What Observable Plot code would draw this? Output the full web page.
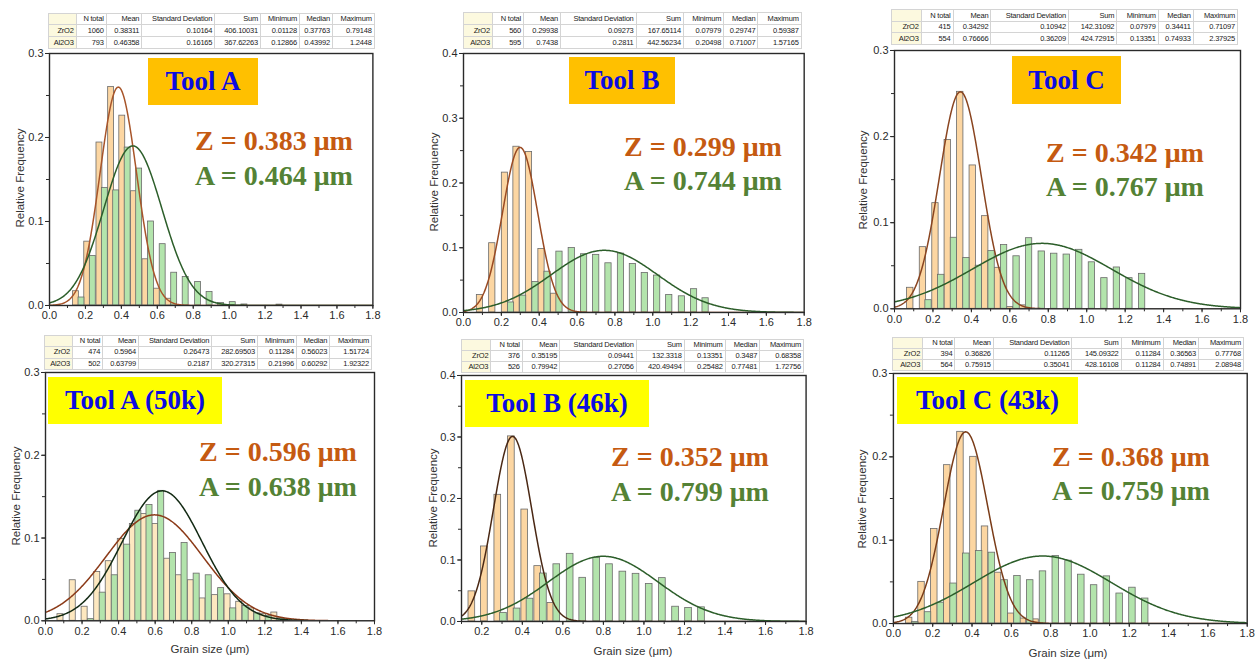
<!DOCTYPE html>
<html><head><meta charset="utf-8">
<script src="https://cdn.jsdelivr.net/npm/d3@7"></script>
<script src="https://cdn.jsdelivr.net/npm/@observablehq/plot@0.6"></script>
<style>
body{margin:0;background:#fff;width:1255px;height:659px;position:relative;overflow:hidden;font-family:"Liberation Sans",Arial,sans-serif;}
.plotbox{position:absolute}
table.stats{position:absolute;border-collapse:collapse;font-family:"Liberation Sans",Arial,sans-serif;font-size:7.5px;color:#1a1a1a;border:1.5px solid #8a8a8a;table-layout:fixed;background:#fff}
table.stats td{border:1px solid #d4d4d4;padding:0 2px;text-align:right;white-space:nowrap;overflow:hidden;line-height:10px;height:10px;letter-spacing:-0.2px}
table.stats tr:first-child td{background:#fcf9df;text-align:center}
table.stats td:first-child{background:#fcf9df}
.tool{position:absolute;font-family:"Liberation Serif","Times New Roman",serif;font-weight:bold;color:#0c0ce0;font-size:27px;display:flex;align-items:center;justify-content:center;white-space:nowrap}
.val{position:absolute;font-family:"Liberation Serif","Times New Roman",serif;font-weight:bold;font-size:28px;white-space:nowrap;line-height:28px}
.ytitle{position:absolute;font-size:11.5px;color:#333;transform:translate(-50%,-50%) rotate(-90deg);white-space:nowrap}
.xtitle{position:absolute;font-size:11.5px;color:#333;transform:translate(-50%,-50%);white-space:nowrap}
</style></head>
<body>
<script>
// ---------- tick labels ----------
const xMajorTicks = [0, 0.2, 0.4, 0.6, 0.8, 1.0, 1.2, 1.4, 1.6, 1.8];
const xMinorTicks = [0, 0.1, 0.2, 0.3, 0.4, 0.5, 0.6, 0.7, 0.8, 0.9, 1.0, 1.1, 1.2, 1.3, 1.4, 1.5, 1.6, 1.7, 1.8];
const yMajor03 = [0, 0.1, 0.2, 0.3];
const yMinor03 = [0, 0.05, 0.1, 0.15, 0.2, 0.25, 0.3];
const yMajor04 = [0, 0.1, 0.2, 0.3, 0.4];
const yMinor04 = [0, 0.05, 0.1, 0.15, 0.2, 0.25, 0.3, 0.35, 0.4];

// ---------- categories / labels ----------
const toolNames = ["Tool A", "Tool B", "Tool C", "Tool A (50k)", "Tool B (46k)", "Tool C (43k)"];
const zLabels = ["Z = 0.383 μm", "Z = 0.299 μm", "Z = 0.342 μm", "Z = 0.596 μm", "Z = 0.352 μm", "Z = 0.368 μm"];
const aLabels = ["A = 0.464 μm", "A = 0.744 μm", "A = 0.767 μm", "A = 0.638 μm", "A = 0.799 μm", "A = 0.759 μm"];
const tableHeader = ["", "N total", "Mean", "Standard Deviation", "Sum", "Minimum", "Median", "Maximum"];
const rowNames = ["ZrO2", "Al2O3"];

// ---------- statistics tables ----------
const statsA  = [["1060","0.38311","0.10164","406.10031","0.01128","0.37763","0.79148"],["793","0.46358","0.16165","367.62263","0.12866","0.43992","1.2448"]];
const statsB  = [["560","0.29938","0.09273","167.65114","0.07979","0.29747","0.59387"],["595","0.7438","0.2811","442.56234","0.20498","0.71007","1.57165"]];
const statsC  = [["415","0.34292","0.10942","142.31092","0.07979","0.34411","0.71097"],["554","0.76666","0.36209","424.72915","0.13351","0.74933","2.37925"]];
const statsA2 = [["474","0.5964","0.26473","282.69503","0.11284","0.56023","1.51724"],["502","0.63799","0.2187","320.27315","0.21996","0.60292","1.92322"]];
const statsB2 = [["376","0.35195","0.09441","132.3318","0.13351","0.3487","0.68358"],["526","0.79942","0.27056","420.49494","0.25482","0.77481","1.72756"]];
const statsC2 = [["394","0.36826","0.11265","145.09322","0.11284","0.36563","0.77768"],["564","0.75915","0.35041","428.16108","0.11284","0.74891","2.08948"]];

// ---------- histogram bars (bin centre, relative frequency) ----------
const toolA_Zr_x = [0.147, 0.210, 0.278, 0.343, 0.405, 0.470, 0.534, 0.598, 0.662];
const toolA_Zr_h = [0.017, 0.076, 0.194, 0.260, 0.226, 0.136, 0.055, 0.020, 0.008];
const toolA_Al_x = [0.178, 0.241, 0.308, 0.371, 0.435, 0.499, 0.565, 0.630, 0.694, 0.758, 0.827, 0.891, 0.955, 1.020, 1.085, 1.280];
const toolA_Al_h = [0.0095, 0.059, 0.140, 0.137, 0.188, 0.163, 0.100, 0.073, 0.039, 0.034, 0.028, 0.016, 0.003, 0.004, 0.0012, 0.001];

const toolB_Zr_x = [0.087, 0.152, 0.219, 0.280, 0.346, 0.412, 0.478];
const toolB_Zr_h = [0.027, 0.107, 0.216, 0.256, 0.248, 0.098, 0.029];
const toolB_Al_x = [0.251, 0.315, 0.380, 0.444, 0.507, 0.572, 0.637, 0.701, 0.766, 0.832, 0.895, 0.958, 1.023, 1.087, 1.154, 1.218, 1.279];
const toolB_Al_h = [0.0155, 0.026, 0.047, 0.063, 0.094, 0.0995, 0.090, 0.089, 0.076, 0.091, 0.075, 0.061, 0.057, 0.027, 0.025, 0.036, 0.022];

const toolC_Zr_x = [0.082, 0.148, 0.213, 0.277, 0.342, 0.407, 0.472, 0.536, 0.601, 0.666];
const toolC_Zr_h = [0.0244, 0.0716, 0.1227, 0.196, 0.252, 0.1665, 0.1076, 0.0476, 0.002, 0.004];
const toolC_Al_x = [0.177, 0.243, 0.309, 0.374, 0.439, 0.505, 0.570, 0.635, 0.700, 0.766, 0.831, 0.896, 0.961, 1.027, 1.092, 1.157, 1.222, 1.288];
const toolC_Al_h = [0.010, 0.0395, 0.0825, 0.059, 0.050, 0.067, 0.074, 0.061, 0.082, 0.0666, 0.064, 0.063, 0.0685, 0.054, 0.0356, 0.048, 0.0356, 0.0406];

const toolA2_Zr_x = [0.082, 0.149, 0.214, 0.283, 0.346, 0.412, 0.478, 0.540, 0.601, 0.666, 0.729, 0.795, 0.859, 0.927, 0.996, 1.060, 1.125, 1.190, 1.252, 1.320];
const toolA2_Zr_h = [0.008, 0.049, 0.017, 0.059, 0.072, 0.099, 0.117, 0.129, 0.117, 0.075, 0.055, 0.049, 0.027, 0.031, 0.032, 0.023, 0.015, 0.008, 0.010, 0.002];
const toolA2_Al_x = [0.248, 0.313, 0.379, 0.447, 0.508, 0.569, 0.633, 0.697, 0.761, 0.827, 0.893, 0.961, 1.027, 1.095, 1.159, 1.221, 1.285];
const toolA2_Al_h = [0.002, 0.034, 0.055, 0.092, 0.133, 0.140, 0.157, 0.082, 0.094, 0.057, 0.055, 0.0395, 0.015, 0.018, 0.009, 0.006, 0.003];

const toolB2_Zr_x = [0.151, 0.213, 0.279, 0.346, 0.412, 0.476, 0.541];
const toolB2_Zr_h = [0.049, 0.122, 0.206, 0.301, 0.182, 0.090, 0.030];
const toolB2_Al_x = [0.307, 0.374, 0.438, 0.504, 0.570, 0.636, 0.698, 0.767, 0.830, 0.896, 0.961, 1.026, 1.091, 1.156, 1.220, 1.284];
const toolB2_Al_h = [0.014, 0.021, 0.037, 0.078, 0.093, 0.110, 0.071, 0.1035, 0.093, 0.081, 0.0775, 0.061, 0.0705, 0.024, 0.022, 0.023];

const toolC2_Zr_x = [0.080, 0.143, 0.208, 0.274, 0.341, 0.407, 0.466, 0.532, 0.598, 0.659, 0.723];
const toolC2_Zr_h = [0.007, 0.050, 0.1135, 0.190, 0.230, 0.200, 0.1165, 0.061, 0.012, 0.006, 0.005];
const toolC2_Al_x = [0.111, 0.176, 0.241, 0.306, 0.371, 0.436, 0.501, 0.566, 0.631, 0.696, 0.761, 0.826, 0.891, 0.956, 1.021, 1.086, 1.151, 1.216, 1.281];
const toolC2_Al_h = [0.002, 0.0136, 0.025, 0.048, 0.084, 0.087, 0.085, 0.052, 0.057, 0.052, 0.0626, 0.081, 0.0754, 0.0586, 0.046, 0.0566, 0.036, 0.043, 0.030];

// ---------- fitted normal curves: [mean, sd, peak] ----------
const fitZr = [[0.383, 0.1016, 0.260], [0.299, 0.0927, 0.255], [0.343, 0.1094, 0.252], [0.596, 0.2647, 0.128], [0.352, 0.0944, 0.301], [0.368, 0.1127, 0.230]];
const fitAl = [[0.464, 0.1617, 0.190], [0.744, 0.2811, 0.096], [0.767, 0.3620, 0.076], [0.638, 0.2187, 0.157], [0.799, 0.2706, 0.106], [0.759, 0.3504, 0.081]];

// ---------- layout (pixel geometry of each panel) ----------
const layout = [
  {fx1:49.3, fx2:372.7, fy1:53.3, fy2:305.3, xdom:[0,1.8], ydom:[0,0.3], yMaj:yMajor03, yMin:yMinor03, bottom:false,
   tbl:[47.7,12.7,327,36.3], box:[148,58,110,47,"#ffc000"], lab:[195,150,185], yt:[20,178], zr:toolA_Zr_x, zrh:toolA_Zr_h, al:toolA_Al_x, alh:toolA_Al_h, stats:statsA,
   zrFill:"#fcd6a2", zrLine:"#a8552a", alLine:"#2c5e2a"},
  {fx1:463.3, fx2:804, fy1:52.7, fy2:311.7, xdom:[0,1.8], ydom:[0,0.4], yMaj:yMajor04, yMin:yMinor04, bottom:false,
   tbl:[463,12,338.7,37], box:[569,57,106,47,"#ffc000"], lab:[624,156,190.7], yt:[434,182], zr:toolB_Zr_x, zrh:toolB_Zr_h, al:toolB_Al_x, alh:toolB_Al_h, stats:statsB,
   zrFill:"#fcd6a2", zrLine:"#9a4a22", alLine:"#2c5e2a"},
  {fx1:894, fx2:1240, fy1:50, fy2:308.3, xdom:[0,1.8], ydom:[0,0.3], yMaj:yMajor03, yMin:yMinor03, bottom:false,
   tbl:[891,9.3,347,35.7], box:[1012,56,109,48,"#ffc000"], lab:[1046,162.3,196.7], yt:[863,180], zr:toolC_Zr_x, zrh:toolC_Zr_h, al:toolC_Al_x, alh:toolC_Al_h, stats:statsC,
   zrFill:"#fcd6a2", zrLine:"#8a4520", alLine:"#2c5e2a"},
  {fx1:45, fx2:374, fy1:371.7, fy2:620, xdom:[0,1.8], ydom:[0,0.3], yMaj:yMajor03, yMin:yMinor03, bottom:true,
   tbl:[44,335,328,35], box:[48,377,174,47,"#ffff00"], lab:[199,461.7,496.7], yt:[16,496], xt:[210,649], zr:toolA2_Zr_x, zrh:toolA2_Zr_h, al:toolA2_Al_x, alh:toolA2_Al_h, stats:statsA2,
   zrFill:"#fde8c0", zrLine:"#8b3a18", alLine:"#132a14"},
  {fx1:461.4, fx2:806, fy1:375, fy2:621, xdom:[0.1,1.8], ydom:[0,0.4], yMaj:yMajor04, yMin:yMinor04, bottom:true,
   tbl:[461,339,343,32.7], box:[465,380,184,47,"#ffff00"], lab:[611,466.7,501.7], yt:[432.7,498], xt:[633,651], zr:toolB2_Zr_x, zrh:toolB2_Zr_h, al:toolB2_Al_x, alh:toolB2_Al_h, stats:statsB2,
   zrFill:"#fcd6a2", zrLine:"#4a2814", alLine:"#2c5e2a"},
  {fx1:893.3, fx2:1248, fy1:373.3, fy2:624, xdom:[0,1.8], ydom:[0,0.3], yMaj:yMajor03, yMin:yMinor03, bottom:true,
   tbl:[892,336.7,352,33.3], box:[897,377,181,47,"#ffff00"], lab:[1052,466.7,500.7], yt:[862,499], xt:[1068,653], zr:toolC2_Zr_x, zrh:toolC2_Zr_h, al:toolC2_Al_x, alh:toolC2_Al_h, stats:statsC2,
   zrFill:"#fcd6a2", zrLine:"#7a3c18", alLine:"#2c5e2a"}
];
const colFrac = [28, 30, 35.7, 73, 45.7, 39, 33, 41.7];

const HW = 0.0165; // half bar width in data units
const alFill = "#b3e4ac";
const barStroke = "#6a6a6a";

function bars(xs, hs) { return xs.map((c, i) => ({x1: c - HW, x2: c + HW, y: hs[i]})); }
function curve(p, dom) {
  const [m, s, pk] = p;
  return d3.range(0, 501).map(i => { const x = dom[0] + (dom[1] - dom[0]) * i / 500; return {x, y: pk * Math.exp(-0.5 * ((x - m) / s) ** 2)}; });
}

layout.forEach((L, k) => {
  const mL = 40, mR = 8, mT = 10, mB = 24;
  const W = L.fx2 - L.fx1 + mL + mR, H = L.fy2 - L.fy1 + mT + mB;
  const xMaj = xMajorTicks.filter(t => t >= L.xdom[0] - 1e-9);
  const xMin = xMinorTicks.filter(t => t >= L.xdom[0] - 1e-9);
  const fmt = d3.format(".1f");
  const svg = Plot.plot({
    width: W, height: H, marginLeft: mL, marginRight: mR, marginTop: mT, marginBottom: mB,
    style: {background: "transparent", fontFamily: "'Liberation Sans', Arial, sans-serif", fontSize: "11px", color: "#2a2a2a", overflow: "visible"},
    x: {domain: L.xdom}, y: {domain: L.ydom},
    marks: [
      Plot.rectY(bars(L.zr, L.zrh), {x1: "x1", x2: "x2", y: "y", fill: L.zrFill, stroke: barStroke, strokeWidth: 0.8}),
      Plot.rectY(bars(L.al, L.alh), {x1: "x1", x2: "x2", y: "y", fill: alFill, stroke: barStroke, strokeWidth: 0.8}),
      Plot.line(curve(fitZr[k], L.xdom), {x: "x", y: "y", stroke: L.zrLine, strokeWidth: 1.5, clip: true}),
      Plot.line(curve(fitAl[k], L.xdom), {x: "x", y: "y", stroke: L.alLine, strokeWidth: 1.5, clip: true}),
      Plot.frame({stroke: "#2a2a2a", strokeWidth: 1.4}),
      Plot.axisX({ticks: xMin, tickSize: 3, tickFormat: () => "", label: null, stroke: "#2a2a2a"}),
      Plot.axisX({ticks: xMaj, tickSize: 4, tickPadding: 2, tickFormat: fmt, label: null, stroke: "#2a2a2a"}),
      Plot.axisY({ticks: L.yMin, tickSize: 3, tickFormat: () => "", label: null, stroke: "#2a2a2a"}),
      Plot.axisY({ticks: L.yMaj, tickSize: 4, tickPadding: 2, tickFormat: fmt, label: null, stroke: "#2a2a2a"})
    ]
  });
  const wrap = document.createElement("div");
  wrap.className = "plotbox";
  wrap.style.left = (L.fx1 - mL) + "px";
  wrap.style.top = (L.fy1 - mT) + "px";
  wrap.appendChild(svg);
  document.body.appendChild(wrap);

  // stats table
  const t = document.createElement("table");
  t.className = "stats";
  const [tx, ty, tw, th] = L.tbl;
  t.style.left = tx + "px"; t.style.top = ty + "px"; t.style.width = tw + "px"; t.style.height = th + "px";
  const cg = document.createElement("colgroup");
  const tot = d3.sum(colFrac);
  colFrac.forEach(f => { const c = document.createElement("col"); c.style.width = (f / tot * 100) + "%"; cg.appendChild(c); });
  t.appendChild(cg);
  const rows = [tableHeader, [rowNames[0], ...L.stats[0]], [rowNames[1], ...L.stats[1]]];
  rows.forEach(r => {
    const tr = document.createElement("tr");
    r.forEach(v => { const td = document.createElement("td"); td.textContent = v; tr.appendChild(td); });
    t.appendChild(tr);
  });
  document.body.appendChild(t);

  // tool label box
  const [bx, by, bw, bh, bc] = L.box;
  const b = document.createElement("div");
  b.className = "tool";
  Object.assign(b.style, {left: bx + "px", top: by + "px", width: bw + "px", height: bh + "px", background: bc});
  b.textContent = toolNames[k];
  document.body.appendChild(b);

  // mean labels
  const [lx, zb, ab] = L.lab;
  [[zLabels[k], zb, "#c55a11"], [aLabels[k], ab, "#548235"]].forEach(([txt, base, col]) => {
    const d = document.createElement("div");
    d.className = "val";
    Object.assign(d.style, {left: lx + "px", top: (base - 23.5) + "px", color: col});
    d.textContent = txt;
    document.body.appendChild(d);
  });

  // axis titles
  const yt = document.createElement("div");
  yt.className = "ytitle";
  Object.assign(yt.style, {left: L.yt[0] + "px", top: L.yt[1] + "px"});
  yt.textContent = "Relative Frequency";
  document.body.appendChild(yt);
  if (L.bottom) {
    const xt = document.createElement("div");
    xt.className = "xtitle";
    Object.assign(xt.style, {left: L.xt[0] + "px", top: L.xt[1] + "px"});
    xt.textContent = "Grain size (μm)";
    document.body.appendChild(xt);
  }
});
</script>
</body></html>
